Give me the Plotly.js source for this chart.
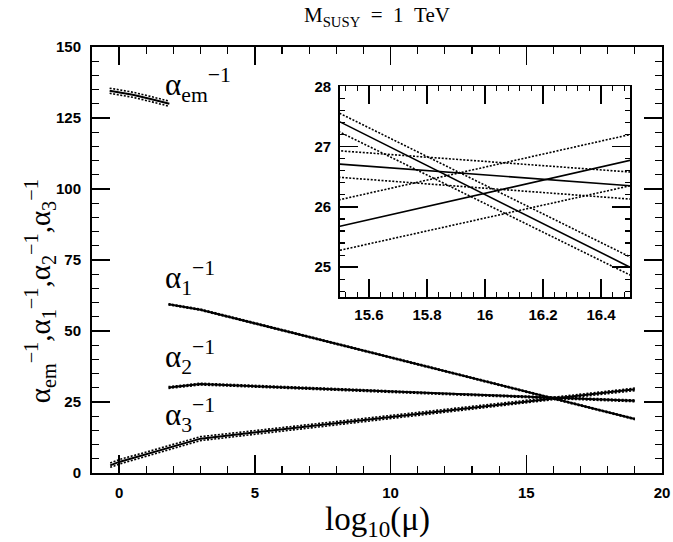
<!DOCTYPE html>
<html>
<head>
<meta charset="utf-8">
<script src="https://cdn.plot.ly/plotly-3.0.1.min.js"></script>
<style>html,body{margin:0;padding:0;background:#fff;}</style>
</head>
<body>
<div id="chart" style="width:673px;height:542px;"></div>
<script>
// ---- data ----
// alpha_em^-1 band
const xEm = [-0.35, 0.5, 1.2, 1.85];
const aEm = [134.6, 133.2, 131.6, 130.0];
const aEmUp = [135.5, 134.1, 132.5, 130.9];
const aEmLo = [133.7, 132.3, 130.7, 129.1];

// alpha_1^-1 and alpha_2^-1 (same sampling in log10(mu))
const x12 = [1.82, 3.0, 8.88, 12.2, 15.5, 16.5, 19.0];
const a1   = [59.4, 57.5, 43.4, 35.4, 27.41, 25.00, 19.0];
const a1Up = [59.6, 57.7, 43.6, 35.6, 27.55, 25.17, 19.2];
const a1Lo = [59.2, 57.3, 43.2, 35.2, 27.24, 24.87, 18.8];

const a2   = [30.1, 31.3, 29.1, 27.8, 26.71, 26.35, 25.4];
const a2Up = [30.4, 31.6, 29.4, 28.0, 26.93, 26.58, 25.7];
const a2Lo = [29.8, 31.0, 28.8, 27.6, 26.49, 26.13, 25.1];

// alpha_3^-1
const x3   = [-0.33, 0.0, 3.0, 8.15, 12.2, 15.5, 16.5, 19.0];
const a3   = [2.7, 3.9, 12.1, 17.6, 22.1, 25.68, 26.77, 29.5];
const a3Up = [3.5, 4.7, 12.8, 18.2, 22.6, 26.12, 27.20, 29.9];
const a3Lo = [2.0, 3.1, 11.4, 17.0, 21.6, 25.28, 26.35, 29.0];

const mainTicksY = [0, 25, 50, 75, 100, 125, 150];
const mainTicksX = [0, 5, 10, 15, 20];
const insetTicksX = [15.6, 15.8, 16, 16.2, 16.4];
const insetTicksXText = ['15.6', '15.8', '16', '16.2', '16.4'];
const insetTicksY = [25, 26, 27, 28];

// ---- traces ----
const DOT = '2px,1.6px';
function line(x, y, dotted, xa, ya, w) {
  return {
    x: x, y: y, type: 'scatter', mode: 'lines', xaxis: xa, yaxis: ya,
    hoverinfo: 'skip',
    line: {color: '#000', width: w, dash: dotted ? DOT : 'solid'}
  };
}
const traces = [];
function addSet(xa, ya, wSolid, wDot) {
  traces.push(line(xEm, aEmUp, true, xa, ya, wDot));
  traces.push(line(xEm, aEmLo, true, xa, ya, wDot));
  traces.push(line(xEm, aEm, false, xa, ya, wSolid));
  traces.push(line(x12, a1Up, true, xa, ya, wDot));
  traces.push(line(x12, a1Lo, true, xa, ya, wDot));
  traces.push(line(x12, a1, false, xa, ya, wSolid));
  traces.push(line(x12, a2Up, true, xa, ya, wDot));
  traces.push(line(x12, a2Lo, true, xa, ya, wDot));
  traces.push(line(x12, a2, false, xa, ya, wSolid));
  traces.push(line(x3, a3Up, true, xa, ya, wDot));
  traces.push(line(x3, a3Lo, true, xa, ya, wDot));
  traces.push(line(x3, a3, false, xa, ya, wSolid));
}
addSet('x', 'y', 2, 1.6);
addSet('x2', 'y2', 1.6, 1.6);

const tickFont = {family: 'Liberation Sans, Arial, sans-serif', size: 15, color: '#000', weight: 'bold'};
const serif = 'Liberation Serif, Times New Roman, serif';

function axisBase(extra) {
  return Object.assign({
    showgrid: false, zeroline: false,
    showline: true, linecolor: '#000', linewidth: 2, mirror: 'allticks',
    ticks: 'inside', tickcolor: '#000', tickwidth: 1.5,
    tickfont: tickFont
  }, extra);
}

const layout = {
  width: 673, height: 542,
  margin: {l: 92, r: 11, t: 47, b: 69},
  paper_bgcolor: '#fff', plot_bgcolor: '#fff',
  showlegend: false,
  title: {
    text: 'M<sub>SUSY</sub>\u00a0\u00a0=\u00a0\u00a01\u00a0\u00a0TeV',
    font: {family: serif, size: 21, color: '#000'},
    x: 0.5, xref: 'paper', xanchor: 'center',
    y: 1 - 15 / 542, yref: 'container', yanchor: 'middle'
  },
  xaxis: axisBase({
    domain: [0, 1], anchor: 'y', range: [-1, 20],
    tickmode: 'array', tickvals: mainTicksX, ticklen: 18, ticklabelstandoff: 5,
    minor: {dtick: 1, tick0: 0, ticks: 'inside', ticklen: 7, tickwidth: 1.2, tickcolor: '#000'}
  }),
  yaxis: axisBase({
    domain: [0, 1], anchor: 'x', range: [0, 150],
    tickmode: 'array', tickvals: mainTicksY, ticklen: 18, ticklabelstandoff: 6,
    minor: {dtick: 5, tick0: 0, ticks: 'inside', ticklen: 7, tickwidth: 1.2, tickcolor: '#000'}
  }),
  xaxis2: axisBase({
    domain: [0.435, 0.944], anchor: 'y2', range: [15.5, 16.5],
    tickmode: 'array', tickvals: insetTicksX, ticktext: insetTicksXText, ticklen: 18, ticklabelstandoff: 3,
    linewidth: 1.8,
    minor: {dtick: 0.04, tick0: 15.6, ticks: 'inside', ticklen: 5, tickwidth: 1.2, tickcolor: '#000'}
  }),
  yaxis2: axisBase({
    domain: [0.4124, 0.9077], anchor: 'x2', range: [24.5, 28],
    tickmode: 'array', tickvals: insetTicksY, ticklen: 18, ticklabelstandoff: 4,
    linewidth: 1.8,
    minor: {dtick: 0.2, tick0: 25, ticks: 'inside', ticklen: 5, tickwidth: 1.2, tickcolor: '#000'}
  }),
  annotations: [
    {text: '\u03b1<sub>em</sub><sup>\u22121</sup>', xref: 'x', yref: 'y', x: 1.62, y: 136.5,
     xanchor: 'left', yanchor: 'middle', showarrow: false, font: {family: serif, size: 31, color: '#000'}},
    {text: '\u03b1<sub>1</sub><sup>\u22121</sup>', xref: 'x', yref: 'y', x: 1.62, y: 68.5,
     xanchor: 'left', yanchor: 'middle', showarrow: false, font: {family: serif, size: 31, color: '#000'}},
    {text: '\u03b1<sub>2</sub><sup>\u22121</sup>', xref: 'x', yref: 'y', x: 1.62, y: 41,
     xanchor: 'left', yanchor: 'middle', showarrow: false, font: {family: serif, size: 31, color: '#000'}},
    {text: '\u03b1<sub>3</sub><sup>\u22121</sup>', xref: 'x', yref: 'y', x: 1.62, y: 20.3,
     xanchor: 'left', yanchor: 'middle', showarrow: false, font: {family: serif, size: 31, color: '#000'}},
    {text: '\u03b1<sub>em</sub><sup>\u22121</sup>,\u03b1<sub>1</sub><sup>\u22121</sup>,\u03b1<sub>2</sub><sup>\u22121</sup>,\u03b1<sub>3</sub><sup>\u22121</sup>',
     xref: 'paper', yref: 'paper', x: -0.0912, y: 0.4265, textangle: -90,
     xanchor: 'center', yanchor: 'middle', showarrow: false, font: {family: serif, size: 29, color: '#000'}},
    {text: 'log<sub>10</sub>(\u03bc)', xref: 'paper', yref: 'paper', x: 0.5, y: -0.115,
     xanchor: 'center', yanchor: 'middle', showarrow: false, font: {family: serif, size: 33, color: '#000'}}
  ]
};

Plotly.newPlot('chart', traces, layout, {staticPlot: true, displayModeBar: false});
</script>
</body>
</html>
